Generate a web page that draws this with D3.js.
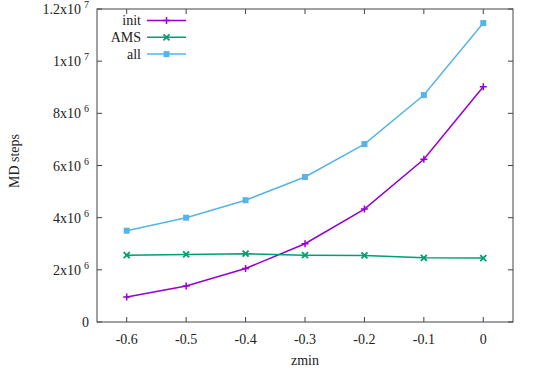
<!DOCTYPE html>
<html lang="en">
<head>
<meta charset="utf-8">
<title>MD steps vs zmin</title>
<style>
  body { margin: 0; background: #fff; }
</style>
</head>
<body>
<script src="https://d3js.org/d3.v7.min.js"></script>
<script>
// values
const zmin = [-0.6, -0.5, -0.4, -0.3, -0.2, -0.1, 0];
const initSteps = [0.96e6, 1.38e6, 2.05e6, 3.0e6, 4.33e6, 6.24e6, 9.02e6];
const amsSteps = [2.56e6, 2.59e6, 2.62e6, 2.56e6, 2.55e6, 2.46e6, 2.45e6];
const allSteps = [3.5e6, 4.0e6, 4.67e6, 5.56e6, 6.82e6, 8.7e6, 11.46e6];
const seriesNames = ["init", "AMS", "all"];
const seriesColors = ["#9400d3", "#009e73", "#56b4e9"];
const yTicks = [0, 2e6, 4e6, 6e6, 8e6, 1e7, 1.2e7];
const xTicks = [-0.6, -0.5, -0.4, -0.3, -0.2, -0.1, 0];

const width = 538, height = 368;
const margin = { left: 97, right: 25, top: 9, bottom: 46 };
const serif = "Liberation Serif";

const svg = d3.select("body").append("svg")
    .attr("width", width)
    .attr("height", height);

const x = d3.scaleLinear().domain([-0.65, 0.05]).range([margin.left, width - margin.right]);
const y = d3.scaleLinear().domain([0, 1.2e7]).range([height - margin.bottom, margin.top]);

// frame
svg.append("rect")
    .attr("x", x.range()[0]).attr("y", y.range()[1])
    .attr("width", x.range()[1] - x.range()[0])
    .attr("height", y.range()[0] - y.range()[1])
    .attr("fill", "none").attr("stroke", "#444").attr("stroke-width", 1);

// ticks (inward, mirrored)
const tickLen = 5;
const tg = svg.append("g").attr("stroke", "#444").attr("stroke-width", 1);
xTicks.forEach(t => {
    tg.append("line").attr("x1", x(t)).attr("x2", x(t)).attr("y1", y(0)).attr("y2", y(0) - tickLen);
    tg.append("line").attr("x1", x(t)).attr("x2", x(t)).attr("y1", y(1.2e7)).attr("y2", y(1.2e7) + tickLen);
});
yTicks.forEach(t => {
    tg.append("line").attr("x1", x.range()[0]).attr("x2", x.range()[0] + tickLen).attr("y1", y(t)).attr("y2", y(t));
    tg.append("line").attr("x1", x.range()[1]).attr("x2", x.range()[1] - tickLen).attr("y1", y(t)).attr("y2", y(t));
});

// x tick labels
svg.append("g").selectAll("text")
    .data(xTicks)
    .join("text")
    .attr("x", d => x(d))
    .attr("y", y(0) + 22)
    .attr("text-anchor", "middle")
    .attr("font-family", serif)
    .attr("font-size", 14)
    .attr("fill", "#222")
    .text(d => d === 0 ? "0" : d3.format(".1f")(d).replace("−", "-"));

// y tick labels with superscript exponents
const yl = svg.append("g").selectAll("text")
    .data(yTicks)
    .join("text")
    .attr("x", x.range()[0] - 8)
    .attr("y", d => y(d) + 5)
    .attr("text-anchor", "end")
    .attr("font-family", serif)
    .attr("font-size", 14)
    .attr("fill", "#222");
yl.each(function(d) {
    const t = d3.select(this);
    if (d === 0) { t.text("0"); return; }
    const e = Math.floor(Math.log10(d));
    const m = +(d / Math.pow(10, e)).toFixed(1);
    t.append("tspan").text(m + "x10");
    t.append("tspan").attr("font-size", 10).attr("dx", 3).attr("dy", -6).text(e);
});

// axis titles
svg.append("text")
    .attr("x", (x.range()[0] + x.range()[1]) / 2)
    .attr("y", height - 3)
    .attr("text-anchor", "middle")
    .attr("font-family", serif)
    .attr("font-size", 14)
    .attr("fill", "#222")
    .text("zmin");
svg.append("text")
    .attr("transform", "translate(19,161) rotate(-90)")
    .attr("text-anchor", "middle")
    .attr("font-family", serif)
    .attr("font-size", 14)
    .attr("fill", "#222")
    .text("MD steps");

// series
const seriesData = [initSteps, amsSteps, allSteps];
const line = d3.line().x((d, i) => x(zmin[i])).y(d => y(d));

function marker(g, kind, cx, cy, color) {
    if (kind === 0) {
        const s = 3.5;
        g.append("path").attr("d", `M${cx - s},${cy}H${cx + s}M${cx},${cy - s}V${cy + s}`)
            .attr("stroke", color).attr("stroke-width", 1.5).attr("fill", "none");
    } else if (kind === 1) {
        const s = 3;
        g.append("path").attr("d", `M${cx - s},${cy - s}L${cx + s},${cy + s}M${cx - s},${cy + s}L${cx + s},${cy - s}`)
            .attr("stroke", color).attr("stroke-width", 1.8).attr("fill", "none");
    } else {
        g.append("rect").attr("x", cx - 3).attr("y", cy - 3).attr("width", 6).attr("height", 6)
            .attr("fill", color);
    }
}

seriesData.forEach((vals, k) => {
    const g = svg.append("g");
    g.append("path")
        .datum(vals)
        .attr("d", line)
        .attr("fill", "none")
        .attr("stroke", seriesColors[k])
        .attr("stroke-width", 1.5);
    vals.forEach((v, i) => marker(g, k, x(zmin[i]), y(v), seriesColors[k]));
});

// legend
const leg = svg.append("g");
seriesNames.forEach((name, k) => {
    const ly = 20.5 + k * 16.8;
    leg.append("text")
        .attr("x", 141).attr("y", ly + 4.5)
        .attr("text-anchor", "end")
        .attr("font-family", serif)
        .attr("font-size", 14)
        .attr("fill", "#222")
        .text(name);
    leg.append("line")
        .attr("x1", 147).attr("x2", 186).attr("y1", ly).attr("y2", ly)
        .attr("stroke", seriesColors[k]).attr("stroke-width", 1.5);
    marker(leg, k, 166.5, ly, seriesColors[k]);
});
</script>
</body>
</html>
